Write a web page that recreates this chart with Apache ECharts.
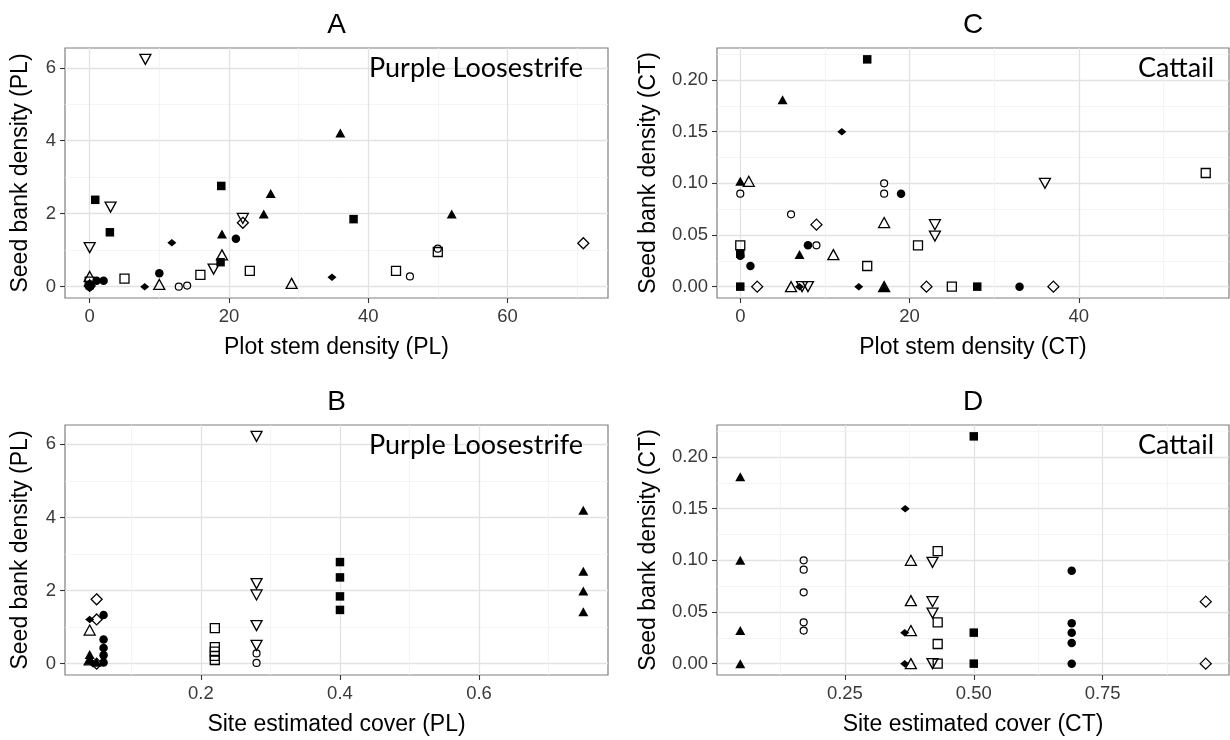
<!DOCTYPE html>
<html>
<head>
<meta charset="utf-8">
<script src="https://cdn.jsdelivr.net/npm/echarts@6/dist/echarts.min.js"></script>
<style>html,body{margin:0;padding:0;background:#fff}#c{width:1230px;height:740px}</style>
</head>
<body>
<div id="c"></div>
<script>
// ---------------- DATA ----------------
// Panel A: Plot stem density (PL) vs Seed bank density (PL)
const A_sqFill     = [[0.8,2.38],[2.9,1.49],[18.9,2.76],[37.9,1.85],[18.8,0.67],[0,0.04]];
const A_sqOpen     = [[0,0.14],[5,0.22],[15.9,0.32],[23,0.43],[44,0.43],[50,0.95]];
const A_circFill   = [[0,0.0],[1,0.16],[2,0.16],[10,0.37],[21,1.31]];
const A_circOpen   = [[0,0.06],[12.8,0.0],[14,0.03],[46,0.28],[50,1.04]];
const A_triFill    = [[0,0.1],[19,1.44],[25,1.99],[26,2.55],[36,4.21],[52,1.99]];
const A_triOpen    = [[0,0.28],[10,0.06],[19,0.87],[29,0.09]];
const A_invTriOpen = [[0,1.07],[3,2.18],[8,6.23],[17.8,0.48],[22,1.87]];
const A_diamOpen   = [[0,0.02],[22,1.75],[70.9,1.19]];
const A_diamFill   = [[0,0.0],[7.9,0.0],[11.8,1.2],[34.8,0.26]];

// Panel B: Site estimated cover (PL) vs Seed bank density (PL)
const B_sqFill     = [[0.40,2.78],[0.40,2.36],[0.40,1.84],[0.40,1.47]];
const B_sqOpen     = [[0.22,0.97],[0.22,0.45],[0.22,0.33],[0.22,0.21],[0.22,0.1]];
const B_circFill   = [[0.06,1.33],[0.06,0.66],[0.06,0.43],[0.06,0.23],[0.06,0.03]];
const B_circOpen   = [[0.28,0.28],[0.28,0.02]];
const B_triFill    = [[0.75,4.2],[0.75,2.53],[0.75,1.99],[0.75,1.42],[0.04,0.25],[0.04,0.1],[0.05,0.04]];
const B_triOpen    = [[0.04,0.92],[0.04,0.1]];
const B_invTriOpen = [[0.28,6.22],[0.28,2.19],[0.28,1.88],[0.28,1.04],[0.28,0.5]];
const B_diamOpen   = [[0.05,1.76],[0.05,1.21],[0.05,0.0]];
const B_diamFill   = [[0.04,1.21],[0.045,0.0]];

// Panel C: Plot stem density (CT) vs Seed bank density (CT)
const C_sqFill     = [[0,0.0],[0,0.032],[15,0.22],[28,0.0]];
const C_sqOpen     = [[0,0.04],[15,0.02],[21,0.04],[25,0.0],[55,0.11]];
const C_circFill   = [[0,0.03],[1.2,0.02],[8,0.04],[19,0.09],[33,0.0]];
const C_circOpen   = [[0,0.09],[6,0.07],[9,0.04],[17,0.10],[17,0.09]];
const C_triFill    = [[0,0.102],[5,0.181],[7,0.031],[17,0.0]];
const C_triOpen    = [[1,0.102],[6,0.0],[11,0.031],[17,0.062],[17,0.0]];
const C_invTriOpen = [[7.3,0.0],[8,0.0],[23,0.06],[23,0.049],[36,0.10]];
const C_diamOpen   = [[2,0.0],[9,0.06],[22,0.0],[37,0.0]];
const C_diamFill   = [[7,0.0],[12,0.15],[14,0.0]];

// Panel D: Site estimated cover (CT) vs Seed bank density (CT)
const D_sqFill     = [[0.50,0.22],[0.50,0.03],[0.50,0.0]];
const D_sqOpen     = [[0.43,0.109],[0.43,0.04],[0.43,0.019],[0.43,0.0]];
const D_circFill   = [[0.69,0.09],[0.69,0.039],[0.69,0.03],[0.69,0.02],[0.69,0.0]];
const D_circOpen   = [[0.17,0.10],[0.17,0.091],[0.17,0.069],[0.17,0.04],[0.17,0.032]];
const D_triFill    = [[0.047,0.181],[0.047,0.10],[0.047,0.032],[0.047,0.0]];
const D_triOpen    = [[0.378,0.10],[0.378,0.061],[0.378,0.032],[0.378,0.0]];
const D_invTriOpen = [[0.42,0.098],[0.42,0.06],[0.42,0.049],[0.42,0.0]];
const D_diamOpen   = [[0.95,0.06],[0.95,0.0]];
const D_diamFill   = [[0.367,0.15],[0.366,0.03],[0.366,0.0]];

// Tick values
const xTicksA = [0, 20, 40, 60];
const xTicksB = [0.2, 0.4, 0.6];
const xTicksC = [0, 20, 40];
const xTicksD = [0.25, 0.5, 0.75];
const yTicksPL = [0, 2, 4, 6];
const yTicksCT = [0, 0.05, 0.10, 0.15, 0.20];

// Texts
const panelLetters = ['A', 'B', 'C', 'D'];
const xNames = ['Plot stem density (PL)', 'Site estimated cover (PL)', 'Plot stem density (CT)', 'Site estimated cover (CT)'];
const yNames = ['Seed bank density (PL)', 'Seed bank density (PL)', 'Seed bank density (CT)', 'Seed bank density (CT)'];
const speciesNames = ['Purple Loosestrife', 'Purple Loosestrife', 'Cattail', 'Cattail'];

// ---------------- STYLE ----------------
const FONT = '"Liberation Sans", Arial, sans-serif';
const OPEN = 'rgba(255,255,255,0)';
const SHAPES = {
  diamOpen:   {symbol: 'diamond',  size: [11, 11], fill: OPEN,   border: 1.3},
  sqOpen:     {symbol: 'rect',     size: [9, 9],   fill: OPEN,   border: 1.3},
  circOpen:   {symbol: 'circle',   size: [7, 7],   fill: OPEN,   border: 1.2},
  triOpen:    {symbol: 'triangle', size: [11, 10], fill: OPEN,   border: 1.3},
  invTriOpen: {symbol: 'triangle', size: [11, 10], fill: OPEN,   border: 1.3, rotate: 180},
  triFill:    {symbol: 'triangle', size: [10, 9],  fill: '#000', border: 0},
  sqFill:     {symbol: 'rect',     size: [8.5, 8.5], fill: '#000', border: 0},
  circFill:   {symbol: 'circle',   size: [8.5, 8.5], fill: '#000', border: 0},
  diamFill:   {symbol: 'diamond',  size: [9, 7.5], fill: '#000', border: 0}
};

const panels = [
  {series: {diamOpen: A_diamOpen, sqOpen: A_sqOpen, circOpen: A_circOpen, triOpen: A_triOpen, invTriOpen: A_invTriOpen,
            triFill: A_triFill, sqFill: A_sqFill, circFill: A_circFill, diamFill: A_diamFill},
   xTicks: xTicksA, yTicks: yTicksPL, xFmt: v => String(v), yFmt: v => String(v)},
  {series: {diamOpen: B_diamOpen, sqOpen: B_sqOpen, circOpen: B_circOpen, triOpen: B_triOpen, invTriOpen: B_invTriOpen,
            triFill: B_triFill, sqFill: B_sqFill, circFill: B_circFill, diamFill: B_diamFill},
   xTicks: xTicksB, yTicks: yTicksPL, xFmt: v => (+v).toFixed(1), yFmt: v => String(v)},
  {series: {diamOpen: C_diamOpen, sqOpen: C_sqOpen, circOpen: C_circOpen, triOpen: C_triOpen, invTriOpen: C_invTriOpen,
            triFill: C_triFill, sqFill: C_sqFill, circFill: C_circFill, diamFill: C_diamFill},
   xTicks: xTicksC, yTicks: yTicksCT, xFmt: v => String(v), yFmt: v => (+v).toFixed(2)},
  {series: {diamOpen: D_diamOpen, sqOpen: D_sqOpen, circOpen: D_circOpen, triOpen: D_triOpen, invTriOpen: D_invTriOpen,
            triFill: D_triFill, sqFill: D_sqFill, circFill: D_circFill, diamFill: D_diamFill},
   xTicks: xTicksD, yTicks: yTicksCT, xFmt: v => (+v).toFixed(2), yFmt: v => (+v).toFixed(2)}
];

const grids = [
  {left: 65,  top: 48,  width: 543, height: 250},
  {left: 65,  top: 425, width: 543, height: 250},
  {left: 717, top: 48,  width: 512, height: 250},
  {left: 717, top: 425, width: 512, height: 250}
];
const yNameGaps = [33, 33, 57, 57];

// ggplot-like 5% expansion of the data range
function extentOf(seriesObj, idx) {
  let lo = Infinity, hi = -Infinity;
  Object.values(seriesObj).forEach(arr => arr.forEach(p => { lo = Math.min(lo, p[idx]); hi = Math.max(hi, p[idx]); }));
  const pad = 0.05 * (hi - lo);
  return [lo - pad, hi + pad];
}

function makeAxis(gi, ticks, fmt, name, nameGap, ext) {
  const step = +(ticks[1] - ticks[0]).toFixed(6);
  return {
    type: 'value', gridIndex: gi, min: ext[0], max: ext[1],
    minInterval: step, maxInterval: step, splitNumber: 4,
    name: name, nameLocation: 'middle', nameGap: nameGap,
    nameTextStyle: {fontSize: 23, color: '#000', fontFamily: FONT},
    axisLine: {show: false, onZero: false},
    axisTick: {show: true, length: 5, lineStyle: {color: '#333', width: 1.1}, customValues: ticks},
    axisLabel: {show: true, margin: 9, fontSize: 18.5, color: '#3a3a3a', fontFamily: FONT, customValues: ticks, formatter: fmt},
    splitLine: {show: true, lineStyle: {color: '#e2e2e2', width: 1.3}},
    minorTick: {show: false, splitNumber: 2},
    minorSplitLine: {show: true, lineStyle: {color: '#f1f1f1', width: 0.8}}
  };
}

const xAxes = [], yAxes = [], series = [], graphics = [];
panels.forEach((p, i) => {
  xAxes.push(makeAxis(i, p.xTicks, p.xFmt, xNames[i], 38, extentOf(p.series, 0)));
  yAxes.push(makeAxis(i, p.yTicks, p.yFmt, yNames[i], yNameGaps[i], extentOf(p.series, 1)));
  Object.keys(p.series).forEach((k, j) => {
    const s = SHAPES[k];
    series.push({
      type: 'scatter', xAxisIndex: i, yAxisIndex: i, data: p.series[k], silent: true, z: 2 + j,
      symbol: s.symbol, symbolSize: s.size, symbolRotate: s.rotate || 0,
      itemStyle: {color: s.fill, borderColor: '#000', borderWidth: s.border, opacity: 1}
    });
  });
  const g = grids[i];
  graphics.push({type: 'text', x: g.left + g.width / 2, y: g.top - 23, z: 100,
    style: {text: panelLetters[i], font: '28px ' + FONT, fill: '#000', align: 'center', verticalAlign: 'middle', textAlign: 'center', textVerticalAlign: 'middle'}});
  graphics.push({type: 'text', x: g.left + g.width - (i < 2 ? 25 : 15), y: g.top + 20, z: 100,
    style: {text: speciesNames[i], font: '27px Lato, "Open Sans", sans-serif', fill: '#000', align: 'right', verticalAlign: 'middle', textAlign: 'right', textVerticalAlign: 'middle'}});
});

const chart = echarts.init(document.getElementById('c'), null, {renderer: 'canvas'});
chart.setOption({
  animation: false,
  backgroundColor: '#fff',
  grid: grids.map(g => Object.assign({}, g, {show: true, backgroundColor: '#fff', borderColor: '#7f7f7f', borderWidth: 1.2, containLabel: false, outerBoundsMode: 'none'})),
  xAxis: xAxes,
  yAxis: yAxes,
  series: series,
  graphic: graphics
});
</script>
</body>
</html>
